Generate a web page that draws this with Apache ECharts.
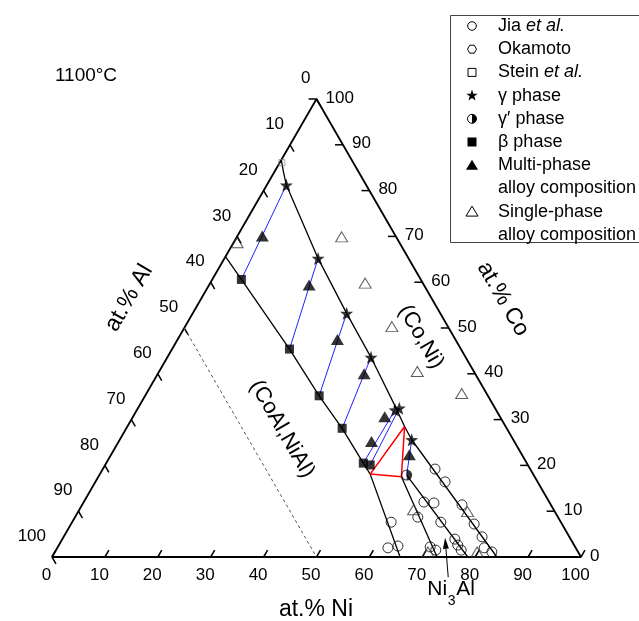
<!DOCTYPE html>
<html>
<head>
<meta charset="utf-8">
<script src="https://cdn.jsdelivr.net/npm/echarts@6/dist/echarts.min.js"></script>
<style>
html,body{margin:0;padding:0;background:#fff;}
#main{width:639px;height:621px;}
</style>
</head>
<body>
<div id="main"></div>
<script>
// Co–Ni–Al isothermal section at 1100 °C.
// Every composition is written as [at.% Ni, at.% Co]; Al is the balance.
const tickValues = [0, 10, 20, 30, 40, 50, 60, 70, 80, 90, 100];

// measured phase compositions
const gammaPhase = [[3.7, 81.2], [17.7, 65.2], [29.1, 53.2], [38.5, 43.6], [48.8, 32.1], [49.4, 32.5], [55.2, 25.6]];
const gammaPrimePhase = [[58.1, 17.9]];
const betaPhase = [[5.5, 60.6], [22.2, 45.4], [32.9, 35.2], [40.8, 28.1], [48.6, 20.5], [50.1, 20.1]];

// alloy compositions
const multiPhaseAlloys = [[4.7, 70.1], [18.9, 59.4], [30.2, 47.5], [39.0, 40.0], [47.6, 30.6], [47.8, 25.2], [56.4, 22.3]];
const singlePhaseAlloys = [[0.7, 68.6], [19.8, 69.9], [29.3, 59.8], [39.1, 50.3], [48.8, 40.5], [59.6, 35.7],
  [63.2, 10.3], [73.6, 9.9], [70.5, 1.1], [79.8, 1.1]];

// literature data
const jiaData = [[62.8, 19.2], [66.1, 16.4], [64.3, 12.0], [66.3, 11.8], [71.8, 11.4], [64.8, 8.7], [69.7, 7.6],
  [60.3, 7.6], [76.2, 7.2], [79.1, 4.4], [74.2, 3.9], [62.5, 2.0], [64.2, 2.4], [70.4, 2.2], [71.8, 1.5],
  [75.4, 2.6], [76.6, 1.5], [80.7, 2.0], [82.6, 1.1]];
const okamotoData = [];
const steinData = [[0.4, 86.1]];

// phase boundaries
const gammaBoundary = [[0, 86.7], [1.7, 84.1], [3.7, 81.2], [17.7, 65.2], [29.1, 53.2], [38.5, 43.6], [48.8, 32.5],
  [52.4, 28.5], [55.2, 25.6], [84.1, 0]];
const betaBoundary = [[0, 65.6], [5.5, 60.6], [22.2, 45.4], [32.9, 35.2], [40.8, 28.1], [48.6, 20.5], [51.1, 18.1], [65.8, 0]];
const gammaPrimeBetaBoundary = [[57.3, 17.5], [72.8, 0]];
const gammaPrimeGammaBoundary = [[58.1, 17.9], [78.6, 0]];
const threePhaseTriangle = [[52.4, 28.5], [51.1, 18.1], [57.3, 17.5], [52.4, 28.5]];
const stoichiometricLine = [[0, 50], [50, 0]];

// tie lines: [index in betaPhase, index in gammaPhase]
const betaGammaTies = [[0, 0], [1, 1], [2, 2], [3, 3], [4, 4], [5, 5]];
// tie lines: [index in gammaPrimePhase, index in gammaPhase]
const gammaPrimeGammaTies = [[0, 6]];

// Ni3Al label: arrow tip and tail, text anchor
const ni3alArrow = [[72.2, 4.2], [77.1, -4.4]];
const ni3alText = [78.2, -7.0];

const FONT = '"Liberation Sans", Arial, sans-serif';
const H = Math.sqrt(3) / 2;
// ternary [Ni, Co] -> cartesian plot units (triangle side = 100)
function xy(p) { return [p[0] + p[1] / 2, p[1] * H]; }

const STAR = 'path://M0,-10L2.35,-3.24L9.51,-3.09L3.8,1.24L5.88,8.09L0,4.9L-5.88,8.09L-3.8,1.24L-9.51,-3.09L-2.35,-3.24Z';
const HALF = 'path://M0,-10A10,10,0,1,1,0,10A10,10,0,1,1,0,-10Z M0,-8.3A8.3,8.3,0,1,0,0,8.3A8.3,8.3,0,1,0,0,-8.3Z M0,-8.3A8.3,8.3,0,0,1,0,8.3Z';

// the three composition axes: edge point for a value and inward tick direction
const axes = [
  { edge: t => [t, 0], inward: [0, 1.5], dx: -5.5, dy: 18, align: 'center' },          // Ni, bottom
  { edge: t => [0, 100 - t], inward: [1.5, -1.5], dx: -6, dy: -20.5, align: 'right' }, // Al, left
  { edge: t => [100 - t, t], inward: [-1.5, 0], dx: 9, dy: -1, align: 'left' }         // Co, right
];

function axisSeries(ax) {
  return {
    type: 'custom', coordinateSystem: 'cartesian2d', clip: false, silent: true,
    encode: { x: 0, y: 1 },
    data: tickValues.map(t => xy(ax.edge(t)).concat([t])),
    renderItem: function (params, api) {
      const t = api.value(2);
      const e = ax.edge(t);
      const p0 = api.coord(xy(e));
      const p1 = api.coord(xy([e[0] + ax.inward[0], e[1] + ax.inward[1]]));
      return {
        type: 'group', children: [
          { type: 'line', shape: { x1: p0[0], y1: p0[1], x2: p1[0], y2: p1[1] }, style: { stroke: '#000', lineWidth: 1.5 } },
          { type: 'text', x: p0[0] + ax.dx, y: p0[1] + ax.dy,
            style: { text: String(t), align: ax.align, verticalAlign: 'middle', font: '17px ' + FONT, fill: '#000' } }
        ]
      };
    }
  };
}

// Ni3Al label with an arrow pointing at the γ′ field
function ni3alSeries() {
  return {
    type: 'custom', coordinateSystem: 'cartesian2d', clip: false, silent: true, z: 6,
    encode: { x: 0, y: 1 },
    data: [xy(ni3alArrow[0])],
    renderItem: function (params, api) {
      const tip = api.coord(xy(ni3alArrow[0]));
      const tail = api.coord(xy(ni3alArrow[1]));
      const t = api.coord(xy(ni3alText));
      const ang = Math.atan2(tip[1] - tail[1], tip[0] - tail[0]);
      const hl = 11, hw = 3;
      const bx = tip[0] - hl * Math.cos(ang), by = tip[1] - hl * Math.sin(ang);
      const nx = -Math.sin(ang) * hw, ny = Math.cos(ang) * hw;
      return {
        type: 'group', children: [
          { type: 'line', shape: { x1: tail[0], y1: tail[1], x2: bx, y2: by }, style: { stroke: '#000', lineWidth: 1 } },
          { type: 'polygon', shape: { points: [[tip[0], tip[1]], [bx + nx, by + ny], [bx - nx, by - ny]] }, style: { fill: '#000' } },
          { type: 'text', x: t[0], y: t[1], style: { text: 'Ni', font: '21px ' + FONT, fill: '#000', align: 'right', verticalAlign: 'middle' } },
          { type: 'text', x: t[0] + 4.5, y: t[1] + 12, style: { text: '3', font: '14px ' + FONT, fill: '#000', align: 'center', verticalAlign: 'middle' } },
          { type: 'text', x: t[0] + 9, y: t[1], style: { text: 'Al', font: '21px ' + FONT, fill: '#000', align: 'left', verticalAlign: 'middle' } }
        ]
      };
    }
  };
}

function lineSeries(name, pts, style) {
  return { name: name, type: 'line', data: pts.map(xy), symbol: 'none', clip: false, silent: true,
    lineStyle: style, z: 2 };
}

function tieSeries(name, from, to, pairs) {
  return { name: name, type: 'lines', coordinateSystem: 'cartesian2d', silent: true, z: 3,
    data: pairs.map(p => ({ coords: [xy(from[p[0]]), xy(to[p[1]])] })),
    lineStyle: { color: '#2020ff', width: 1, opacity: 1 } };
}

function markerSeries(name, pts, symbol, size, itemStyle) {
  return { name: name, type: 'scatter', data: pts.map(xy), symbol: symbol, symbolSize: size,
    clip: false, silent: true, itemStyle: itemStyle, z: 5 };
}

const open = { color: 'rgba(0,0,0,0)', borderColor: '#000', borderWidth: 1 };
const filled = { color: '#000' };

const series = [
  lineSeries('frame', [[0, 0], [100, 0], [0, 100], [0, 0]], { color: '#000', width: 1.8 }),
  lineSeries('NiAl–CoAl', stoichiometricLine, { color: '#555', width: 1, type: [3, 3] }),
  lineSeries('γ boundary', gammaBoundary, { color: '#000', width: 1.3 }),
  lineSeries('β boundary', betaBoundary, { color: '#000', width: 1.3 }),
  lineSeries('γ′/β boundary', gammaPrimeBetaBoundary, { color: '#000', width: 1.3 }),
  lineSeries('γ′/γ boundary', gammaPrimeGammaBoundary, { color: '#000', width: 1.3 }),
  tieSeries('β–γ tie lines', betaPhase, gammaPhase, betaGammaTies),
  tieSeries('γ′–γ tie lines', gammaPrimePhase, gammaPhase, gammaPrimeGammaTies),
  lineSeries('γ+γ′+β', threePhaseTriangle, { color: '#ff0000', width: 1.5 }),
  axisSeries(axes[0]), axisSeries(axes[1]), axisSeries(axes[2]),
  ni3alSeries(),
  markerSeries('Jia et al.', jiaData, 'circle', 10, open),
  markerSeries('Okamoto', okamotoData, 'path://M-10,0L-5,-8.66L5,-8.66L10,0L5,8.66L-5,8.66Z', 9, open),
  markerSeries('Stein et al.', steinData, 'rect', 6, { color: 'rgba(0,0,0,0)', borderColor: '#888', borderWidth: 1 }),
  markerSeries('Single-phase alloy composition', singlePhaseAlloys, 'triangle', [12, 10], { color: 'rgba(0,0,0,0)', borderColor: '#333', borderWidth: 1 }),
  markerSeries('Multi-phase alloy composition', multiPhaseAlloys, 'triangle', [13, 11], filled),
  markerSeries('β phase', betaPhase, 'rect', 9, filled),
  markerSeries('γ phase', gammaPhase, STAR, 13, filled),
  markerSeries('γ′ phase', gammaPrimePhase, HALF, 11, filled)
];

// legend, drawn as a framed list
const legendRows = [
  { text: 'Jia {i|et al.}', sym: 'circle' },
  { text: 'Okamoto', sym: 'hex' },
  { text: 'Stein {i|et al.}', sym: 'square' },
  { text: 'γ phase', sym: 'star' },
  { text: 'γ′ phase', sym: 'half' },
  { text: 'β phase', sym: 'fsquare' },
  { text: 'Multi-phase', sym: 'ftri' },
  { text: 'alloy composition', sym: null },
  { text: 'Single-phase', sym: 'tri' },
  { text: 'alloy composition', sym: null }
];
function legendSymbol(kind, cx, cy) {
  const s = { stroke: '#000', fill: 'none', lineWidth: 1 };
  switch (kind) {
    case 'circle': return [{ type: 'circle', shape: { cx, cy, r: 4.3 }, style: s }];
    case 'hex': return [{ type: 'polygon', shape: { points: [[cx - 4.5, cy], [cx - 2.3, cy - 4], [cx + 2.3, cy - 4], [cx + 4.5, cy], [cx + 2.3, cy + 4], [cx - 2.3, cy + 4]] }, style: s }];
    case 'square': return [{ type: 'rect', shape: { x: cx - 4, y: cy - 4, width: 8, height: 8 }, style: s }];
    case 'fsquare': return [{ type: 'rect', shape: { x: cx - 4.5, y: cy - 4.5, width: 9, height: 9 }, style: { fill: '#000' } }];
    case 'star': {
      const pts = [];
      for (let k = 0; k < 10; k++) {
        const r = k % 2 ? 2.4 : 6;
        const a = -Math.PI / 2 + k * Math.PI / 5;
        pts.push([cx + r * Math.cos(a), cy + r * Math.sin(a)]);
      }
      return [{ type: 'polygon', shape: { points: pts }, style: { fill: '#000' } }];
    }
    case 'half': return [
      { type: 'circle', shape: { cx, cy, r: 4.5 }, style: s },
      { type: 'sector', shape: { cx, cy, r: 4.5, r0: 0, startAngle: -Math.PI / 2, endAngle: Math.PI / 2 }, style: { fill: '#000' } }
    ];
    case 'ftri': return [{ type: 'polygon', shape: { points: [[cx, cy - 5.5], [cx + 6, cy + 4.5], [cx - 6, cy + 4.5]] }, style: { fill: '#000' } }];
    case 'tri': return [{ type: 'polygon', shape: { points: [[cx, cy - 5.5], [cx + 6, cy + 4.5], [cx - 6, cy + 4.5]] }, style: s }];
  }
  return [];
}
const legendChildren = [
  { type: 'rect', shape: { x: 450.5, y: 15.5, width: 200, height: 227 }, style: { fill: '#fff', stroke: '#444', lineWidth: 1 } }
];
legendRows.forEach((row, i) => {
  const cy = 26 + i * 23.2;
  if (row.sym) legendChildren.push(...legendSymbol(row.sym, 472, cy));
  legendChildren.push({ type: 'text', x: 498, y: cy,
    style: { text: row.text, font: '18px ' + FONT, fill: '#000', align: 'left', verticalAlign: 'middle',
      rich: { i: { fontStyle: 'italic', fontSize: 18, fontFamily: FONT } } } });
});

function label(id, text, x, y, size, rotation) {
  return { id: id, type: 'text', x: x, y: y, rotation: rotation || 0,
    style: { text: text, font: size + 'px ' + FONT, fill: '#000', align: 'center', verticalAlign: 'middle' } };
}

const chart = echarts.init(document.getElementById('main'), null, { renderer: 'canvas' });
chart.setOption({
  animation: false,
  backgroundColor: '#fff',
  grid: { left: 52, top: 99, width: 529, height: 458, containLabel: false },
  xAxis: { type: 'value', min: 0, max: 100, show: false },
  yAxis: { type: 'value', min: 0, max: 100 * H, show: false },
  series: series,
  graphic: [
    { id: 'legend', type: 'group', children: legendChildren },
    label('temp', '1100°C', 86, 76, 19),
    label('tNi', 'at.% Ni', 316, 610, 23),
    label('tAl', 'at.% Al', 129, 298, 23, Math.PI / 3),
    label('tCo', 'at.% Co', 503, 299, 23, -Math.PI / 3),
    label('fcc', '(Co,Ni)', 421, 337, 22, -Math.PI / 3),
    label('b2', '(CoAl,NiAl)', 282, 429, 22, -Math.PI / 3)
  ]
});
</script>
</body>
</html>
